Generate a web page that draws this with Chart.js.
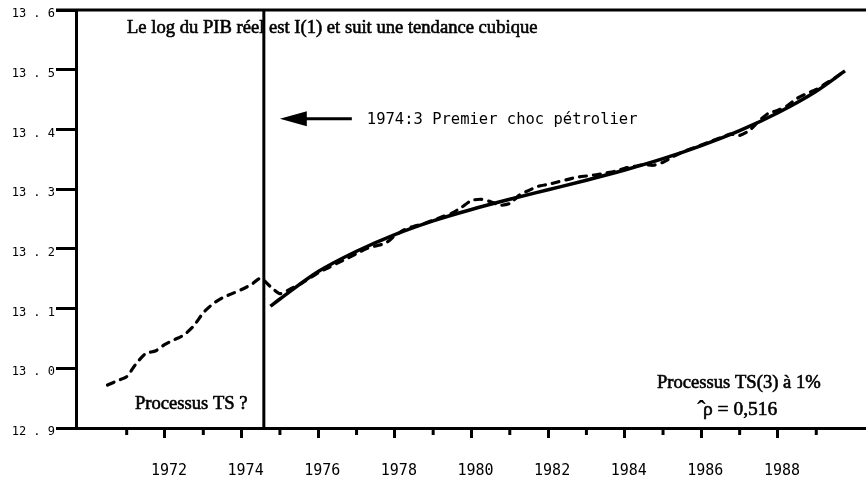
<!DOCTYPE html>
<html>
<head>
<meta charset="utf-8">
<script src="https://cdn.jsdelivr.net/npm/chart.js@4.4.1/dist/chart.umd.min.js"></script>
<style>
  html, body { margin: 0; padding: 0; background: #fff; }
  canvas { display: block; }
</style>
</head>
<body>
<canvas id="c" width="866" height="484"></canvas>
<script>
// ---- Data ----
// Quarterly log real GDP (dashed), 1970:3 .. 1989:4
const gdpStart = 1970.5;
const gdpLog = [
  12.972, 12.979, 12.986, 13.008, 13.025, 13.029, 13.040, 13.048, 13.056, 13.071,
  13.093, 13.108, 13.118, 13.125, 13.132, 13.140, 13.151, 13.137, 13.125, 13.132,
  13.140, 13.150, 13.160, 13.168, 13.176, 13.184, 13.192, 13.200, 13.205, 13.209,
  13.222, 13.232, 13.238, 13.242, 13.248, 13.254, 13.260, 13.270, 13.281, 13.283,
  13.279, 13.273, 13.276, 13.290, 13.298, 13.305, 13.308, 13.312, 13.316, 13.320,
  13.322, 13.324, 13.327, 13.330, 13.335, 13.338, 13.341, 13.340, 13.345, 13.354,
  13.362, 13.368, 13.374, 13.380, 13.386, 13.392, 13.390, 13.398, 13.414, 13.427,
  13.432, 13.440, 13.452, 13.460, 13.467, 13.477, 13.487, 13.498
];
const gdpTimes = gdpLog.map((_, i) => gdpStart + i * 0.25);

// Cubic trend (solid) after the break
const trendTimes  = [1974.75, 1975, 1976, 1977, 1978, 1979, 1980, 1981, 1982, 1983, 1984, 1985, 1986, 1987, 1988, 1989, 1989.75];
const trendValues = [13.104, 13.116, 13.162, 13.196, 13.224, 13.247, 13.266, 13.283, 13.299, 13.315, 13.332, 13.351, 13.373, 13.398, 13.428, 13.464, 13.498];

// Axes
const xTickYears = [1972, 1974, 1976, 1978, 1980, 1982, 1984, 1986, 1988];
const xMinorYears = [1971, 1973, 1975, 1977, 1979, 1981, 1983, 1985, 1987, 1989];
const yMin = 12.9, yMax = 13.6, yStep = 0.1;
const xMin = 1969.677, xMax = 1990.298;
const breakDate = 1974.58;

// Texts
const titleText = "Le log du PIB réel est I(1) et suit une tendance cubique";
const arrowText = "1974:3 Premier choc pétrolier";
const leftNote = "Processus TS ?";
const rightNote1 = "Processus TS(3) à 1%";
const rightNote2 = "ρ = 0,516";

function heavyText(ctx, txt, x, y) {
  ctx.fillText(txt, x, y);
  ctx.strokeText(txt, x, y);
}

const decorPlugin = {
  id: 'decor',
  afterDatasetsDraw(chart) {
    const ctx = chart.ctx;
    const xs = chart.scales.x, ys = chart.scales.y;
    const ca = chart.chartArea;
    ctx.save();
    ctx.strokeStyle = '#000';
    ctx.fillStyle = '#000';
    // top border
    ctx.lineWidth = 3;
    ctx.beginPath();
    ctx.moveTo(ca.left - 20, ca.top);
    ctx.lineTo(ca.right, ca.top);
    ctx.stroke();
    // break line
    const bx = xs.getPixelForValue(breakDate);
    ctx.lineWidth = 3;
    ctx.beginPath();
    ctx.moveTo(bx, ca.top);
    ctx.lineTo(bx, ca.bottom);
    ctx.stroke();
    // minor x ticks
    ctx.lineWidth = 3;
    xMinorYears.forEach(v => {
      const px = xs.getPixelForValue(v);
      ctx.beginPath();
      ctx.moveTo(px, ca.bottom);
      ctx.lineTo(px, ca.bottom + 7);
      ctx.stroke();
    });
    // arrow
    const ay = ys.getPixelForValue(13.418);
    const tip = bx + 16;
    ctx.beginPath();
    ctx.moveTo(tip, ay);
    ctx.lineTo(tip + 27, ay - 7.5);
    ctx.lineTo(tip + 27, ay + 7.5);
    ctx.closePath();
    ctx.fill();
    ctx.lineWidth = 3;
    ctx.beginPath();
    ctx.moveTo(tip + 20, ay);
    ctx.lineTo(tip + 72, ay);
    ctx.stroke();
    // texts
    ctx.textBaseline = 'alphabetic';
    ctx.textAlign = 'left';
    ctx.font = '15.5px "DejaVu Sans Mono"';
    ctx.fillText(arrowText, tip + 87, ay + 5.5);
    ctx.lineWidth = 0.6;
    ctx.font = '18.6px "Liberation Serif"';
    heavyText(ctx, titleText, 127, 33);
    heavyText(ctx, leftNote, 135, 409);
    heavyText(ctx, rightNote1, 657, 388);
    ctx.font = '19.5px "Liberation Serif"';
    heavyText(ctx, rightNote2, 703, 415);
    ctx.font = 'bold 26px "Liberation Serif"';
    ctx.fillText('ˆ', 697, 418);
    ctx.restore();
  }
};

new Chart(document.getElementById('c'), {
  type: 'line',
  data: {
    datasets: [
      {
        label: 'log PIB',
        data: gdpTimes.map((t, i) => ({ x: t, y: gdpLog[i] })),
        borderColor: '#000',
        borderWidth: 3.2,
        borderDash: [7, 7],
        borderCapStyle: 'round',
        pointRadius: 0,
        tension: 0.2,
        fill: false
      },
      {
        label: 'tendance cubique',
        data: trendTimes.map((t, i) => ({ x: t, y: trendValues[i] })),
        borderColor: '#000',
        borderWidth: 3.5,
        pointRadius: 0,
        cubicInterpolationMode: 'monotone',
        fill: false
      }
    ]
  },
  options: {
    responsive: false,
    animation: false,
    devicePixelRatio: 1,
    layout: { padding: { top: 10, left: 0, right: 0, bottom: 0 } },
    plugins: { legend: { display: false }, tooltip: { enabled: false }, title: { display: false } },
    scales: {
      x: {
        type: 'linear',
        min: xMin,
        max: xMax,
        afterFit: s => { s.height = 56; },
        afterBuildTicks: s => { s.ticks = xTickYears.map(v => ({ value: v })); },
        grid: { drawOnChartArea: false, drawTicks: true, tickLength: 10, tickWidth: 3, tickColor: '#000' },
        border: { display: true, color: '#000', width: 3 },
        ticks: {
          autoSkip: false, maxRotation: 0, color: '#000', padding: 24, labelOffset: 4,
          font: { family: 'DejaVu Sans Mono', size: 15 },
          callback: v => String(v)
        }
      },
      y: {
        min: yMin,
        max: yMax,
        afterFit: s => { s.width = 76; },
        grid: { drawOnChartArea: false, drawTicks: true, tickLength: 20, tickWidth: 3, tickColor: '#000' },
        border: { display: true, color: '#000', width: 3 },
        ticks: {
          stepSize: yStep, color: '#000', padding: 1, labelOffset: 4,
          font: { family: 'DejaVu Sans Mono', size: 12 },
          callback: v => { const s = Number(v).toFixed(1); return s.slice(0, 2) + ' . ' + s.slice(3); }
        }
      }
    }
  },
  plugins: [decorPlugin]
});
</script>
</body>
</html>
